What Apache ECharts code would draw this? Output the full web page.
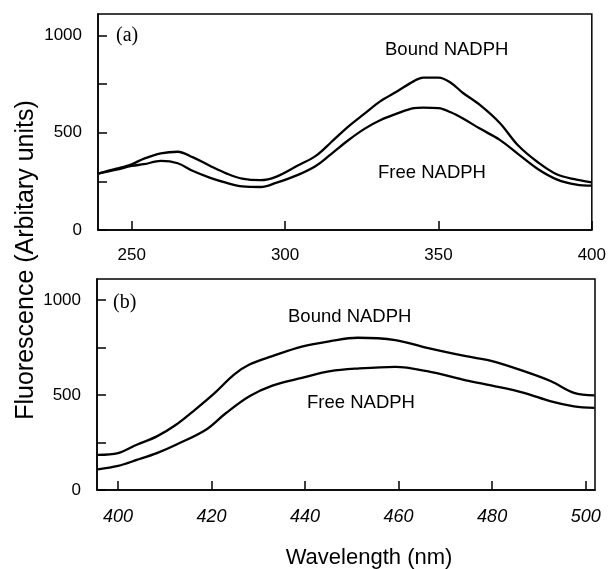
<!DOCTYPE html>
<html>
<head>
<meta charset="utf-8">
<script src="https://cdn.jsdelivr.net/npm/echarts@6/dist/echarts.min.js"></script>
<style>
html,body{margin:0;padding:0;background:#fff;}
#chart{width:609px;height:569px;}
</style>
</head>
<body>
<div id="chart"></div>
<script>
// Panel (a): excitation region
var wavelengthsA = [239, 245, 250, 254, 259.5, 265, 270, 275.6, 281, 286, 292, 297, 304, 310, 315, 320.5, 326, 331, 336.6, 342, 345, 350, 354, 358, 363.5, 370, 376, 382.5, 388.7, 395, 400];
var boundA = [290, 315, 338, 367, 394, 402, 373, 329, 290, 264, 256, 273, 330, 381, 451, 530, 599, 661, 713, 765, 783, 783, 757, 704, 643, 550, 434, 347, 285, 259, 245];
var freeA  = [290, 310, 329, 338, 355, 343, 303, 268, 242, 224, 221, 242, 282, 329, 390, 460, 521, 564, 599, 626, 629, 626, 605, 573, 521, 463, 390, 312, 259, 233, 228];

// Panel (b): emission region
var wavelengthsB = [395.7, 400, 404, 408.3, 412.4, 416.5, 420.7, 424.8, 428.1, 433, 439.3, 445.4, 451.2, 459.3, 466.1, 474.4, 480, 486.8, 492.6, 497.5, 501.9];
var boundB = [185, 194, 238, 282, 343, 423, 511, 607, 660, 704, 754, 783, 801, 789, 748, 704, 678, 625, 572, 511, 498];
var wavelengthsBFree = [395.7, 400, 404, 408.3, 412.4, 418.8, 423.1, 428.1, 433, 439.3, 445.4, 451.2, 459.3, 466.1, 474.4, 480, 486.8, 492.6, 497.5, 501.9];
var freeB  = [109, 127, 158, 194, 238, 317, 405, 493, 549, 590, 625, 639, 648, 625, 577, 549, 511, 466, 440, 432];

var xTicksA = [250, 300, 350, 400];
var xTicksB = [400, 420, 440, 460, 480, 500];
var yTicks = [0, 250, 500, 750, 1000];
var yLabels = [0, 500, 1000];

function pairs(xs, ys) { return xs.map(function (x, i) { return [x, ys[i]]; }); }

var FONT = '"Liberation Sans", Arial, sans-serif';
var axisLine = { show: true, onZero: false, lineStyle: { color: '#000', width: 1.5 } };
function plain(v) { return String(v); }

function xAxis(grid, min, max, ticks, italic, size, margin) {
  return {
    type: 'value', gridIndex: grid, min: min, max: max,
    axisLine: axisLine,
    axisTick: { show: true, inside: true, length: 9, customValues: ticks, lineStyle: { color: '#000', width: 1.5 } },
    axisLabel: { customValues: ticks, formatter: plain, color: '#000', fontFamily: FONT, fontSize: size, fontStyle: italic ? 'italic' : 'normal', margin: margin },
    splitLine: { show: false }
  };
}
function yAxis(grid) {
  return {
    type: 'value', gridIndex: grid, min: 0, max: 1110,
    axisLine: axisLine,
    axisTick: { show: true, inside: true, length: 9, customValues: yTicks, lineStyle: { color: '#000', width: 1.5 } },
    axisLabel: { customValues: yLabels, formatter: plain, color: '#000', fontFamily: FONT, fontSize: 17, margin: 16 },
    splitLine: { show: false }
  };
}
function line(xi, data) {
  return {
    type: 'line', xAxisIndex: xi, yAxisIndex: xi, data: data, smooth: 0.35,
    showSymbol: false, symbol: 'none',
    lineStyle: { color: '#000', width: 2.3 }, z: 3
  };
}
function txt(x, y, s, size, family, align, rot) {
  return {
    type: 'text', x: x, y: y, rotation: rot || 0,
    style: { text: s, fill: '#000', font: size + 'px ' + family,
      align: align || 'left', verticalAlign: 'middle',
      textAlign: align || 'left', textVerticalAlign: 'middle' }
  };
}

var chart = echarts.init(document.getElementById('chart'), null, { renderer: 'canvas' });
chart.setOption({
  animation: false,
  backgroundColor: '#fff',
  grid: [
    { left: 98, top: 14, width: 498, height: 216, show: true, borderColor: '#000', borderWidth: 1.5, backgroundColor: 'transparent' },
    { left: 97, top: 279, width: 498, height: 211, show: true, borderColor: '#000', borderWidth: 1.5, backgroundColor: 'transparent' }
  ],
  xAxis: [
    xAxis(0, 239, 400, xTicksA, false, 17, 17),
    xAxis(1, 395.5, 502, xTicksB, true, 18, 18)
  ],
  yAxis: [yAxis(0), yAxis(1)],
  series: [
    line(0, pairs(wavelengthsA, boundA)),
    line(0, pairs(wavelengthsA, freeA)),
    line(1, pairs(wavelengthsB, boundB)),
    line(1, pairs(wavelengthsBFree, freeB))
  ],
  graphic: [
    txt(116, 36, '(a)', 20, '"Liberation Serif", serif'),
    txt(113, 303, '(b)', 20, '"Liberation Serif", serif'),
    txt(385, 50, 'Bound NADPH', 18.5, FONT),
    txt(378, 173, 'Free NADPH', 18.5, FONT),
    txt(288, 317, 'Bound NADPH', 18.5, FONT),
    txt(307, 403, 'Free NADPH', 18.5, FONT),
    txt(26, 260, 'Fluorescence (Arbitary units)', 25, FONT, 'center', Math.PI / 2),
    txt(369, 558, 'Wavelength (nm)', 22, FONT, 'center')
  ]
});
</script>
</body>
</html>
